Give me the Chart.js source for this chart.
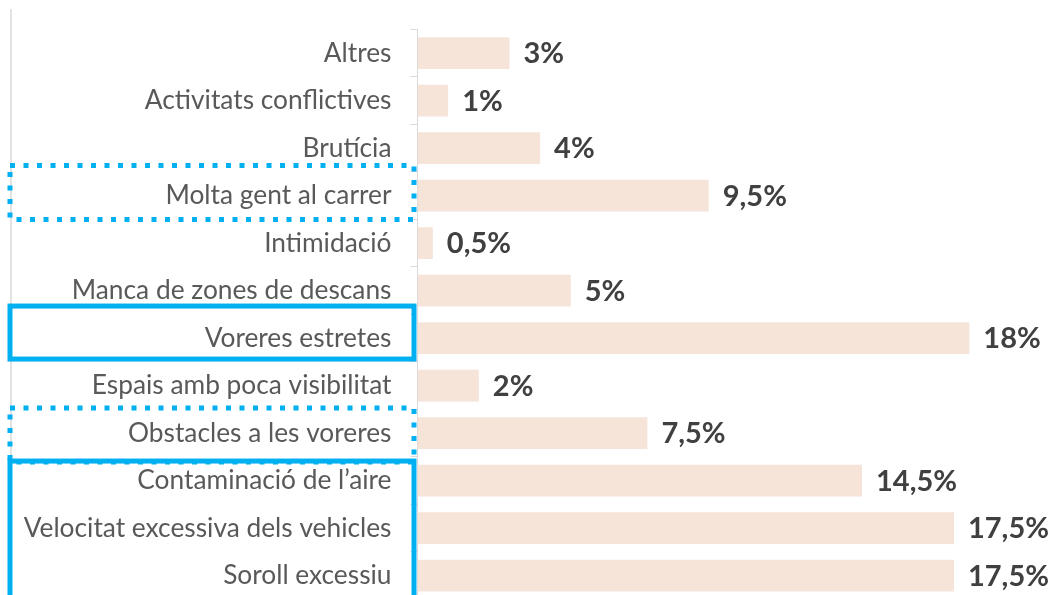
<!DOCTYPE html>
<html>
<head>
<meta charset="utf-8">
<script src="https://cdn.jsdelivr.net/npm/chart.js@4.4.1/dist/chart.umd.min.js"></script>
<style>
  html, body { margin: 0; padding: 0; background: #ffffff; overflow: hidden; }
  #c { display: block; }
</style>
</head>
<body>
<canvas id="c" width="1053" height="612" style="width:1053px;height:612px"></canvas>
<script>
const categories = [
  "Altres",
  "Activitats conflictives",
  "Brutícia",
  "Molta gent al carrer",
  "Intimidació",
  "Manca de zones de descans",
  "Voreres estretes",
  "Espais amb poca visibilitat",
  "Obstacles a les voreres",
  "Contaminació de l’aire",
  "Velocitat excessiva dels vehicles",
  "Soroll excessiu"
];
const values = [3, 1, 4, 9.5, 0.5, 5, 18, 2, 7.5, 14.5, 17.5, 17.5];

const BLUE = "#00B0F0";
const AXIS_LEFT = 417.5;

const valueLabels = {
  id: "valueLabels",
  afterDatasetsDraw(chart) {
    const ctx = chart.ctx;
    const meta = chart.getDatasetMeta(0);
    ctx.save();
    ctx.font = "bold 29px Lato";
    ctx.fillStyle = "#404040";
    ctx.textAlign = "left";
    ctx.textBaseline = "middle";
    meta.data.forEach((bar, i) => {
      const txt = String(values[i]).replace(".", ",") + "%";
      ctx.fillText(txt, bar.x + 14, bar.y + 1);
    });
    ctx.restore();
  }
};

const boxes = {
  id: "boxes",
  afterDraw(chart) {
    const ctx = chart.ctx;
    const y = chart.scales.y;
    ctx.save();
    ctx.strokeStyle = "#D9D9D9";
    ctx.lineWidth = 1.5;
    ctx.beginPath();
    ctx.moveTo(11, 9);
    ctx.lineTo(11, chart.height);
    ctx.stroke();

    const specs = [
      { from: 3, to: 3, top: -30, bottom: 24, dotted: true },
      { from: 8, to: 8, top: -25, bottom: 29, dotted: true },
      { from: 6, to: 6, top: -32, bottom: 21, dotted: false },
      { from: 9, to: 11, top: -19.5, bottom: 40, dotted: false }
    ];
    specs.forEach(s => {
      const t = y.getPixelForValue(s.from) + s.top;
      const b = y.getPixelForValue(s.to) + s.bottom;
      ctx.strokeStyle = BLUE;
      ctx.lineWidth = 5;
      ctx.setLineDash(s.dotted ? [5, 8.5] : []);
      ctx.strokeRect(10, t, 404, b - t);
    });
    ctx.restore();
  }
};

new Chart(document.getElementById("c"), {
  type: "bar",
  data: {
    labels: categories,
    datasets: [{
      data: values,
      backgroundColor: "#F6E4D9",
      borderWidth: 0,
      barPercentage: 0.67,
      categoryPercentage: 1
    }]
  },
  options: {
    indexAxis: "y",
    responsive: false,
    maintainAspectRatio: false,
    animation: false,
    devicePixelRatio: 1,
    layout: { padding: { top: 29.3, bottom: 12.7, left: 0, right: 0 } },
    plugins: {
      legend: { display: false },
      tooltip: { enabled: false }
    },
    scales: {
      x: {
        display: false,
        min: 0,
        max: 20.73
      },
      y: {
        afterFit(scale) {
          scale.width = AXIS_LEFT;
          scale.paddingTop = 0;
          scale.paddingBottom = 0;
        },
        border: { display: true, color: "#D9D9D9", width: 1 },
        grid: {
          display: true,
          drawOnChartArea: false,
          drawTicks: true,
          tickLength: 7,
          color: "#D9D9D9",
          offset: true
        },
        ticks: {
          color: "#595959",
          font: { family: "Lato", size: 26.3 },
          padding: 19
        }
      }
    }
  },
  plugins: [valueLabels, boxes]
});
</script>
</body>
</html>
